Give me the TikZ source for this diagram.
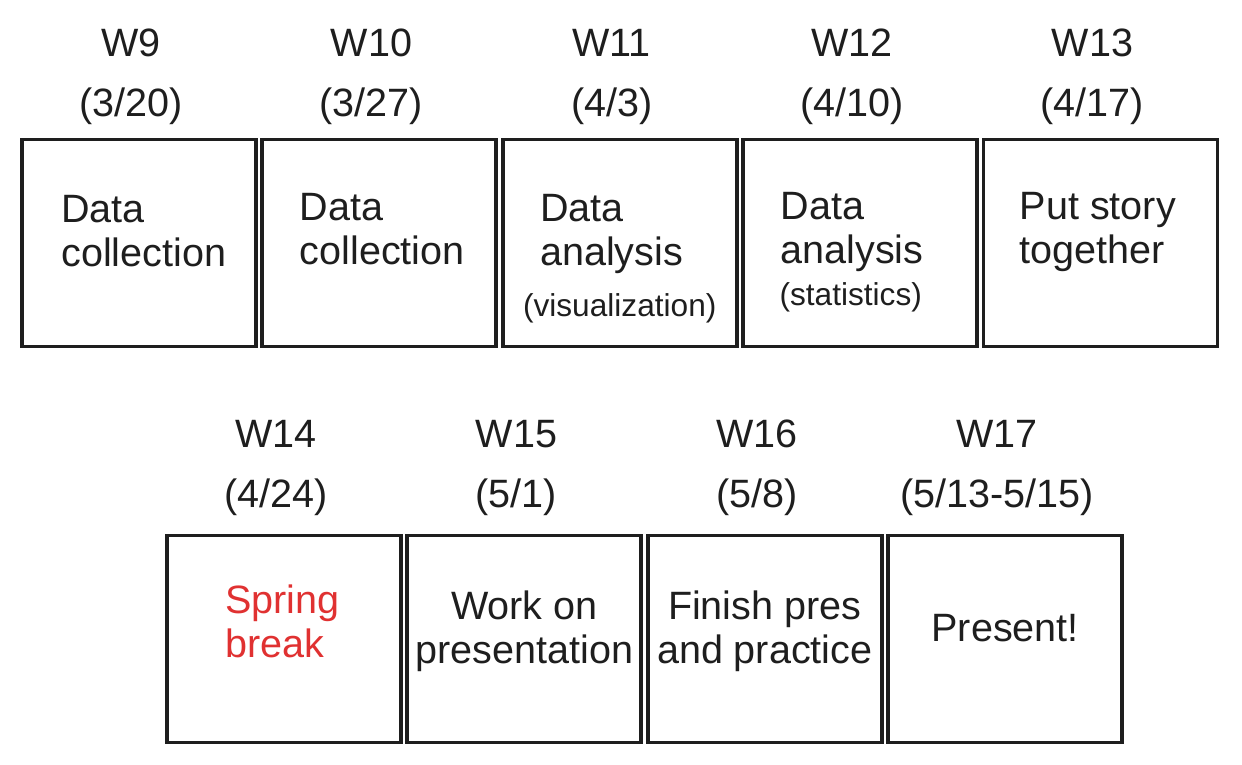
\documentclass[tikz,border=0pt]{standalone}
\usepackage{fontspec}
\setmainfont{Liberation Sans}
\usetikzlibrary{positioning}
\definecolor{ink}{RGB}{30,30,30}
\definecolor{alert}{RGB}{224,49,49}

\begin{document}
\begin{tikzpicture}[
    node distance=0.05cm,
    % node styles
    week/.style = {
      draw=ink,
      line width=2.2pt,
      minimum width=4.68cm,
      minimum height=4.14cm,
      inner sep=0pt
    },
    head/.style = {
      align=center,
      inner sep=0pt,
      text=ink,
      font=\fontsize{22.5}{33.6}\selectfont,
      xshift=-0.16cm
    },
    task/.style = {
      align=left,
      inner sep=0pt,
      text=ink,
      font=\fontsize{22.5}{25}\selectfont
    },
    sub/.style = {
      inner sep=0pt,
      text=ink,
      font=\fontsize{18}{20}\selectfont
    }
  ]
  \useasboundingbox (0,0) rectangle (24.84,-15.3);

  % --- Week boxes, first row
  \node[week] (w9) at (2.78,-4.86) {};
  \node[week, right=of w9] (w10) {};
  \node[week, right=of w10] (w11) {};
  \node[week, right=of w11] (w12) {};
  \node[week, right=of w12] (w13) {};

  % --- Week boxes, second row
  \node[week] (w14) at (5.68,-12.78) {};
  \node[week, right=of w14] (w15) {};
  \node[week, right=of w15] (w16) {};
  \node[week, right=of w16] (w17) {};

  % --- Week headers
  \node[head, above=0.26cm of w9] (h9) {W9\\(3/20)};
  \node[head, above=0.26cm of w10] (h10) {W10\\(3/27)};
  \node[head, above=0.26cm of w11] (h11) {W11\\(4/3)};
  \node[head, above=0.26cm of w12] (h12) {W12\\(4/10)};
  \node[head, above=0.26cm of w13] (h13) {W13\\(4/17)};
  \node[head, above=0.36cm of w14] (h14) {W14\\(4/24)};
  \node[head, above=0.36cm of w15] (h15) {W15\\(5/1)};
  \node[head, above=0.36cm of w16] (h16) {W16\\(5/8)};
  \node[head, above=0.36cm of w17] (h17) {W17\\(5/13-5/15)};

  % --- Tasks
  \node[task, below right=1.14cm and 0.82cm of w9.north west] (t9) {Data\\collection};
  \node[task, below right=1.1cm and 0.78cm of w10.north west] (t10) {Data\\collection};
  \node[task, below right=1.12cm and 0.78cm of w11.north west] (t11) {Data\\analysis};
  \node[sub, above=0.5cm of w11.south] (s11) {(visualization)};
  \node[task, below right=1.08cm and 0.78cm of w12.north west] (t12) {Data\\analysis};
  \node[sub, above right=0.72cm and 0.76cm of w12.south west] (s12) {(statistics)};
  \node[task, below right=1.08cm and 0.76cm of w13.north west] (t13) {Put story\\together};

  \node[task, text=alert, below right=1.02cm and 1.2cm of w14.north west] (t14) {Spring\\break};
  \node[task, align=center, below=1.14cm of w15.north] (t15) {Work on\\presentation};
  \node[task, align=center, below=1.14cm of w16.north] (t16) {Finish pres\\and practice};
  \node[task, below=1.6cm of w17.north] (t17) {Present!};
\end{tikzpicture}
\end{document}
